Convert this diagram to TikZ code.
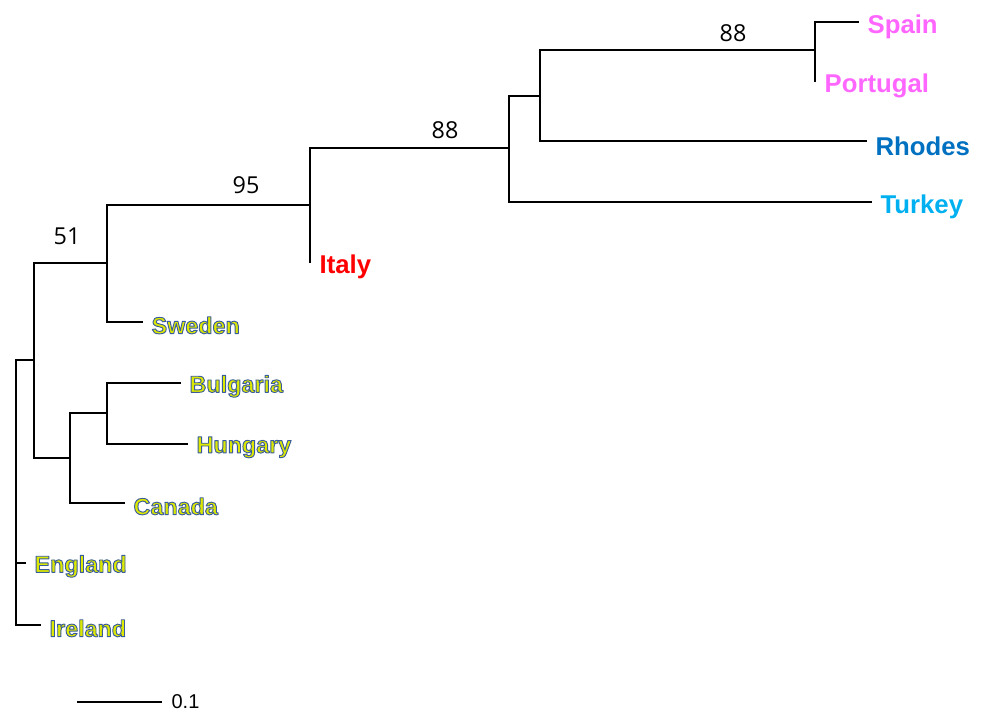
\documentclass[tikz,border=0pt]{standalone}
\usepackage{fontspec}
\newfontfamily\labfont{Liberation Sans}
\newfontfamily\numfont{Open Sans}
\newcommand\outlinetext[1]{\special{pdf:literal direct 2 Tr 0.7 w 1 j 0.227 0.361 0.612 RG}#1\special{pdf:literal direct 0 Tr}}
\definecolor{cpink}{HTML}{FF66FF}
\definecolor{cblue}{HTML}{0070C0}
\definecolor{clight}{HTML}{00B0F0}
\definecolor{cred}{HTML}{FF0000}
\definecolor{cyel}{HTML}{DCE800}
\tikzset{
  branch/.style={draw=black, line width=1.6pt, line cap=rect},
  taxon/.style={anchor=west, inner sep=0pt, xshift=7pt, yshift=-4pt, font=\labfont\bfseries\fontsize{19.3}{21}\selectfont},
  otaxon/.style={anchor=west, inner sep=0pt, xshift=7pt, yshift=-2.5pt, text=cyel, font=\labfont\bfseries\fontsize{17.5}{19}\selectfont},
  boot/.style={inner sep=0pt, font=\numfont\fontsize{17.5}{19}\selectfont},
}
\begin{document}
\begin{tikzpicture}[x=0.75pt, y=-0.75pt]
\useasboundingbox (0,0) rectangle (984,712);
% internal nodes
\coordinate (r) at (16,492);
\coordinate (n1) at (34,360);
\coordinate (n51) at (107,263);
\coordinate (n95) at (310,205);
\coordinate (n88a) at (509,148);
\coordinate (n2) at (540,96);
\coordinate (n88b) at (815,50);
\coordinate (n3) at (70,458);
\coordinate (n4) at (107,413);
% tips
\coordinate (tSpain) at (858,22);
\coordinate (tPortugal) at (815,81);
\coordinate (tRhodes) at (866,141);
\coordinate (tTurkey) at (871,202);
\coordinate (tItaly) at (310,262);
\coordinate (tSweden) at (142,322);
\coordinate (tBulgaria) at (180,383);
\coordinate (tHungary) at (187,444);
\coordinate (tCanada) at (124,503);
\coordinate (tEngland) at (25,563);
\coordinate (tIreland) at (40,625);
% branches
\draw[branch] (r) |- (n1);
\draw[branch] (r) |- (tEngland);
\draw[branch] (r) |- (tIreland);
\draw[branch] (n1) |- (n51);
\draw[branch] (n1) |- (n3);
\draw[branch] (n51) |- (n95);
\draw[branch] (n51) |- (tSweden);
\draw[branch] (n95) |- (n88a);
\draw[branch] (n95) |- (tItaly);
\draw[branch] (n88a) |- (n2);
\draw[branch] (n88a) |- (tTurkey);
\draw[branch] (n2) |- (n88b);
\draw[branch] (n2) |- (tRhodes);
\draw[branch] (n88b) |- (tSpain);
\draw[branch] (n88b) |- (tPortugal);
\draw[branch] (n3) |- (n4);
\draw[branch] (n3) |- (tCanada);
\draw[branch] (n4) |- (tBulgaria);
\draw[branch] (n4) |- (tHungary);
% labels
\node[taxon, text=cpink] (lSpain) at (tSpain) {Spain};
\node[taxon, text=cpink] (lPortugal) at (tPortugal) {Portugal};
\node[taxon, text=cblue] (lRhodes) at (tRhodes) {Rhodes};
\node[taxon, text=clight] (lTurkey) at (tTurkey) {Turkey};
\node[taxon, text=cred] (lItaly) at (tItaly) {Italy};
\node[otaxon] (lSweden) at (tSweden) {\outlinetext{Sweden}};
\node[otaxon] (lBulgaria) at (tBulgaria) {\outlinetext{Bulgaria}};
\node[otaxon] (lHungary) at (tHungary) {\outlinetext{Hungary}};
\node[otaxon] (lCanada) at (tCanada) {\outlinetext{Canada}};
\node[otaxon] (lEngland) at (tEngland) {\outlinetext{England}};
\node[otaxon] (lIreland) at (tIreland) {\outlinetext{Ireland}};
% bootstrap values
\node[boot] (b1) at (733,33) {88};
\node[boot] (b2) at (445,130) {88};
\node[boot] (b3) at (246,185) {95};
\node[boot] (b4) at (67,236) {51};
% scale bar
\coordinate (sb1) at (77,702);
\coordinate (sb2) at (162,702);
\draw[line width=1.2pt] (sb1) -- (sb2);
\node[anchor=west, inner sep=0pt, xshift=7pt, font=\labfont\fontsize{15}{17}\selectfont] (sbl) at (sb2) {0.1};
\end{tikzpicture}
\end{document}
